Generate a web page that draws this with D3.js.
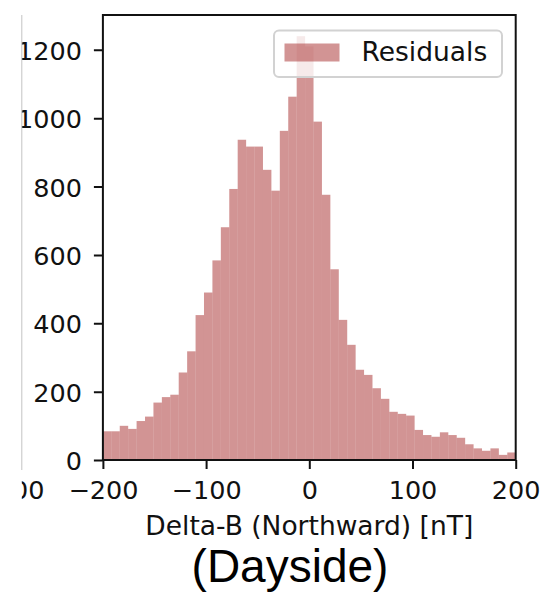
<!DOCTYPE html>
<html>
<head>
<meta charset="utf-8">
<script src="https://cdn.jsdelivr.net/npm/d3@7"></script>
<style>
  body { margin: 0; background: #fff; }
  svg { display: block; }
</style>
</head>
<body>
<svg id="chart" width="552" height="597"></svg>
<script>
// histogram counts, bins = linspace(-200, 200, 50)
const binRange = [-200, 200]
const counts = [84, 84, 100, 91, 114, 127, 168, 184, 191, 256,
    318, 424, 490, 584, 681, 793, 937, 917, 917, 849,
    788, 963, 1063, 1240, 1210, 990, 776, 558, 410, 337,
    264, 249, 210, 179, 141, 135, 130, 88, 73, 68,
    81, 73, 65, 46, 34, 27, 34, 15, 22]
const xTicks = [-200, -100, 0, 100, 200]
const yTicks = [0, 200, 400, 600, 800, 1000, 1200]
const seriesName = "Residuals"
const xLabel = "Delta-B (Northward) [nT]"
const panelTitle = "(Dayside)"

const plotL = 102.9, plotR = 515.7, plotT = 15, plotB = 460
const barColour = "#a52a2a"
const font = "'DejaVu Sans', sans-serif"
const fs = 25.5
const labelFs = 26.5

const svg = d3.select("#chart")

svg.append("clipPath").attr("id", "cropClip")
    .append("rect")
    .attr("x", 21.8).attr("y", 0)
    .attr("width", 552).attr("height", 597)

const root = svg.append("g").attr("clip-path", "url(#cropClip)")

const x = d3.scaleLinear().domain(binRange).range([plotL, plotR])
const y = d3.scaleLinear().domain([0, d3.max(counts) * 1.05]).range([plotB, plotT])

const binW = (binRange[1] - binRange[0]) / counts.length
const bins = counts.map((c, i) => ({x0: binRange[0] + i * binW, x1: binRange[0] + (i + 1) * binW, n: c}))

root.append("g").selectAll("rect")
    .data(bins)
    .join("rect")
    .attr("x", d => x(d.x0))
    .attr("width", d => x(d.x1) - x(d.x0))
    .attr("y", d => y(d.n))
    .attr("height", d => y(0) - y(d.n))
    .attr("fill", barColour)
    .attr("fill-opacity", 0.5)

// axes
const xAxis = root.append("g")
    .attr("transform", `translate(0,${plotB})`)
    .call(d3.axisBottom(x).tickValues(xTicks).tickSize(9).tickFormat(d3.format("d")))
xAxis.select(".domain").remove()
xAxis.selectAll("line").attr("stroke", "#111").attr("stroke-width", 2)
xAxis.selectAll("text")
    .attr("y", 39).attr("dy", 0)
    .attr("fill", "#111")
    .style("font-family", font).style("font-size", fs + "px")

const yAxis = root.append("g")
    .attr("transform", `translate(${plotL},0)`)
    .call(d3.axisLeft(y).tickValues(yTicks).tickSize(9).tickPadding(12).tickFormat(d3.format("d")))
yAxis.select(".domain").remove()
yAxis.selectAll("line").attr("stroke", "#111").attr("stroke-width", 2)
yAxis.selectAll("text")
    .attr("dy", "0.37em")
    .attr("fill", "#111")
    .style("font-family", font).style("font-size", fs + "px")

// neighbour panel leftovers (cut by the crop, as in the source)
root.append("text")
    .attr("x", 44.5).attr("y", plotB + 39)
    .attr("text-anchor", "end")
    .attr("fill", "#111")
    .style("font-family", font).style("font-size", fs + "px")
    .text("200")

svg.append("line")
    .attr("x1", 21.8).attr("x2", 21.8)
    .attr("y1", plotT).attr("y2", 470)
    .attr("stroke", "#c4c4c4").attr("stroke-width", 1)

// frame
root.append("rect")
    .attr("x", plotL).attr("y", plotT)
    .attr("width", plotR - plotL).attr("height", plotB - plotT)
    .attr("fill", "none")
    .attr("stroke", "#111").attr("stroke-width", 2)

// legend
const legend = root.append("g")
legend.append("rect")
    .attr("x", 274).attr("y", 30.5)
    .attr("width", 228).attr("height", 46.5)
    .attr("rx", 5)
    .attr("fill", "#fff").attr("fill-opacity", 0.8)
    .attr("stroke", "#d2d2d2").attr("stroke-width", 2)
legend.append("rect")
    .attr("x", 284.5).attr("y", 43.5)
    .attr("width", 55).attr("height", 18)
    .attr("fill", barColour).attr("fill-opacity", 0.5)
legend.append("text")
    .attr("x", 361.5).attr("y", 61)
    .attr("fill", "#111")
    .style("font-family", font).style("font-size", labelFs + "px")
    .text(seriesName)

root.append("text")
    .attr("x", (plotL + plotR) / 2).attr("y", 535)
    .attr("text-anchor", "middle")
    .attr("fill", "#111")
    .style("font-family", font).style("font-size", labelFs + "px")
    .text(xLabel)

root.append("text")
    .attr("x", 290).attr("y", 582)
    .attr("text-anchor", "middle")
    .attr("fill", "#000")
    .style("font-family", "'Liberation Sans', Arial, sans-serif").style("font-size", "46px")
    .text(panelTitle)
</script>
</body>
</html>
